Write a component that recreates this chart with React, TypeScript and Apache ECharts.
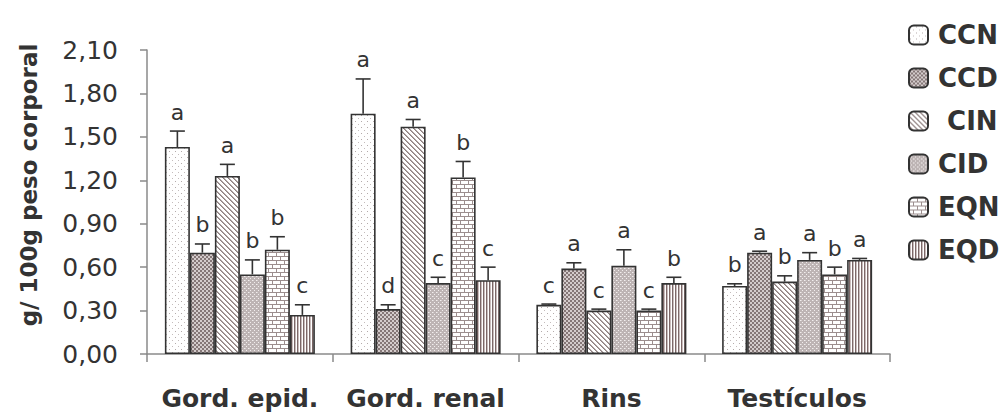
import React, { useEffect, useRef } from "react";
import * as echarts from "echarts";

// Organ weights per 100 g body weight, by treatment group
const categories = ["Gord. epid.", "Gord. renal", "Rins", "Testículos"];
const seriesNames = ["CCN", "CCD", "CIN", "CID", "EQN", "EQD"];

const CCN = [1.43, 1.66, 0.34, 0.47];
const CCD = [0.7, 0.31, 0.59, 0.7];
const CIN = [1.23, 1.57, 0.3, 0.5];
const CID = [0.55, 0.49, 0.61, 0.65];
const EQN = [0.72, 1.22, 0.3, 0.55];
const EQD = [0.27, 0.51, 0.49, 0.65];

const CCN_err = [0.11, 0.24, 0.005, 0.015];
const CCD_err = [0.06, 0.03, 0.04, 0.01];
const CIN_err = [0.08, 0.05, 0.01, 0.04];
const CID_err = [0.1, 0.04, 0.11, 0.05];
const EQN_err = [0.09, 0.11, 0.01, 0.05];
const EQD_err = [0.07, 0.09, 0.04, 0.01];

// Significance letters
const CCN_sig = ["a", "a", "c", "b"];
const CCD_sig = ["b", "d", "a", "a"];
const CIN_sig = ["a", "a", "c", "b"];
const CID_sig = ["b", "c", "a", "a"];
const EQN_sig = ["b", "b", "c", "b"];
const EQD_sig = ["c", "c", "b", "a"];

const yTicks = { min: 0, max: 2.1, interval: 0.3 };

const values = [CCN, CCD, CIN, CID, EQN, EQD];
const errors = [CCN_err, CCD_err, CIN_err, CID_err, EQN_err, EQD_err];
const letters = [CCN_sig, CCD_sig, CIN_sig, CID_sig, EQN_sig, EQD_sig];

const BAR_W = 25;
const INK = "#333333";
const AXIS = "#8a8a8a";

type Painter = (ctx: CanvasRenderingContext2D) => void;

function makePattern(w: number, h: number, paint: Painter) {
  const c = document.createElement("canvas");
  c.width = w;
  c.height = h;
  const ctx = c.getContext("2d")!;
  paint(ctx);
  return {
    image: c.toDataURL(),
    imageWidth: w,
    imageHeight: h,
    repeat: "repeat",
  };
}

function buildPatterns() {
  const px = (ctx: CanvasRenderingContext2D, x: number, y: number, col: string, s = 1) => {
    ctx.fillStyle = col;
    ctx.fillRect(x, y, s, s);
  };
  // sparse light stipple
  const ccn = makePattern(6, 6, (ctx) => {
    ctx.fillStyle = "#ffffff";
    ctx.fillRect(0, 0, 6, 6);
    px(ctx, 1, 1, "#b4abab");
    px(ctx, 4, 4, "#c4bcbc");
  });
  // dense dotted check
  const ccd = makePattern(4, 4, (ctx) => {
    ctx.fillStyle = "#857777";
    ctx.fillRect(0, 0, 4, 4);
    px(ctx, 0, 0, "#d4cccc", 2);
    px(ctx, 2, 2, "#d4cccc", 2);
  });
  // diagonal stripes
  const cin = makePattern(5, 5, (ctx) => {
    ctx.fillStyle = "#ffffff";
    ctx.fillRect(0, 0, 5, 5);
    for (let i = 0; i < 5; i++) {
      px(ctx, i, i, "#8e8080");
      px(ctx, (i + 1) % 5, i, "#b3a8a8");
    }
  });
  // gray with light flecks
  const cid = makePattern(4, 4, (ctx) => {
    ctx.fillStyle = "#bdb4b4";
    ctx.fillRect(0, 0, 4, 4);
    px(ctx, 0, 0, "#f2eeee");
    px(ctx, 2, 2, "#f2eeee");
    px(ctx, 1, 0, "#d8d2d2");
  });
  // brick
  const eqn = makePattern(8, 8, (ctx) => {
    ctx.fillStyle = "#ffffff";
    ctx.fillRect(0, 0, 8, 8);
    ctx.fillStyle = "#9c8e8e";
    ctx.fillRect(0, 0, 8, 1);
    ctx.fillRect(0, 4, 8, 1);
    ctx.fillRect(0, 0, 1, 4);
    ctx.fillRect(4, 4, 1, 4);
  });
  // vertical stripes
  const eqd = makePattern(3, 2, (ctx) => {
    ctx.fillStyle = "#ffffff";
    ctx.fillRect(0, 0, 3, 2);
    ctx.fillStyle = "#7c6868";
    ctx.fillRect(0, 0, 1, 2);
    ctx.fillStyle = "#c9bcbc";
    ctx.fillRect(1, 0, 1, 2);
  });
  return [ccn, ccd, cin, cid, eqn, eqd];
}

export default function App() {
  const ref = useRef<HTMLDivElement>(null);

  useEffect(() => {
    if (!ref.current) return;
    const chart = echarts.init(ref.current, undefined, { renderer: "svg" });
    const patterns = buildPatterns();
    const mid = (seriesNames.length - 1) / 2;

    const barSeries = seriesNames.map((name, s) => ({
      name,
      type: "bar",
      data: values[s],
      barWidth: BAR_W,
      barGap: "0%",
      itemStyle: {
        color: patterns[s],
        borderColor: INK,
        borderWidth: 1.6,
      },
      z: 2,
    }));

    const errData: number[][] = [];
    seriesNames.forEach((_, s) => {
      categories.forEach((__, g) => {
        errData.push([g, s, values[s][g], errors[s][g]]);
      });
    });

    const errSeries = {
      type: "custom",
      data: errData,
      encode: { x: 0, y: 2 },
      z: 5,
      silent: true,
      renderItem: (params: any, api: any) => {
        const g = api.value(0);
        const s = api.value(1);
        const v = api.value(2);
        const e = api.value(3);
        const base = api.coord([g, v]);
        const top = api.coord([g, v + e]);
        const x = base[0] + (s - mid) * BAR_W;
        const lineStyle = { stroke: INK, lineWidth: 1.6 };
        return {
          type: "group",
          children: [
            { type: "line", shape: { x1: x, y1: base[1], x2: x, y2: top[1] }, style: lineStyle },
            { type: "line", shape: { x1: x - 7.5, y1: top[1], x2: x + 7.5, y2: top[1] }, style: lineStyle },
            {
              type: "text",
              x,
              y: top[1] - 19,
              style: {
                text: letters[s][g],
                fill: INK,
                font: '22px "DejaVu Sans"',
                align: "center",
                verticalAlign: "middle",
              },
            },
          ],
        };
      },
    };

    chart.setOption({
      animation: false,
      backgroundColor: "#ffffff",
      grid: { left: 147, right: 110, top: 50, bottom: 62 },
      legend: {
        orient: "vertical",
        left: 903,
        top: 17,
        itemWidth: 19,
        itemHeight: 19,
        itemGap: 17,
        data: seriesNames,
        formatter: (n: string) => (n === "CIN" ? "\u00a0CIN" : n),
        textStyle: {
          color: INK,
          fontFamily: "DejaVu Sans",
          fontWeight: "bold",
          fontSize: 26,
          padding: [0, 0, 0, 5],
        },
      },
      graphic: [
        {
          type: "text",
          x: 29,
          y: 185,
          rotation: Math.PI / 2,
          style: {
            text: "g/ 100g peso corporal",
            fill: INK,
            font: 'bold 23px "DejaVu Sans"',
            align: "center",
            verticalAlign: "middle",
          },
        },
      ],
      xAxis: {
        type: "category",
        data: categories,
        axisLine: { show: true, lineStyle: { color: AXIS, width: 1.5 } },
        axisTick: { show: true, length: 8, lineStyle: { color: AXIS, width: 1.5 } },
        axisLabel: {
          interval: 0,
          color: INK,
          fontFamily: "DejaVu Sans",
          fontWeight: "bold",
          fontSize: 25,
          margin: 32,
        },
      },
      yAxis: {
        type: "value",
        min: yTicks.min,
        max: yTicks.max,
        interval: yTicks.interval,
        splitLine: { show: false },
        axisLine: { show: true, lineStyle: { color: AXIS, width: 1.5 } },
        axisTick: { show: true, length: 7, lineStyle: { color: AXIS, width: 1.5 } },
        axisLabel: {
          color: INK,
          fontFamily: "DejaVu Sans",
          fontSize: 25,
          margin: 29,
          formatter: (v: number) => v.toFixed(2).replace(".", ","),
        },
      },
      series: [...barSeries, errSeries],
    });

    return () => chart.dispose();
  }, []);

  return (
    <div
      ref={ref}
      style={{ position: "absolute", left: 0, top: 0, width: 1000, height: 416 }}
    />
  );
}
